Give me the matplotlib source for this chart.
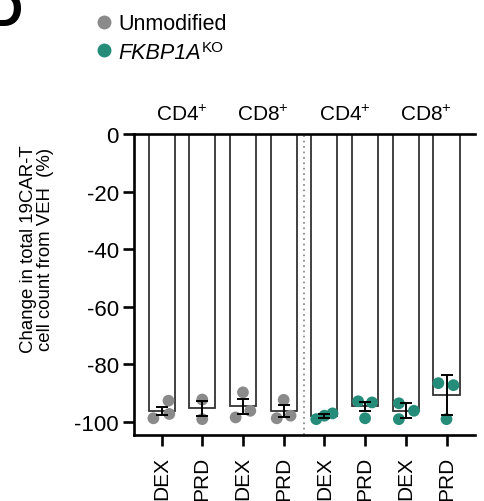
import matplotlib
matplotlib.use("Agg")
import matplotlib.pyplot as plt
from matplotlib.lines import Line2D
from matplotlib.transforms import blended_transform_factory

plt.rcParams['font.family'] = ['Liberation Sans', 'DejaVu Sans']
plt.rcParams['mathtext.fontset'] = 'custom'
plt.rcParams['mathtext.rm'] = 'Liberation Sans'
plt.rcParams['mathtext.it'] = 'Liberation Sans:italic'
plt.rcParams['axes.unicode_minus'] = False

# drug per bar, cell subset per pair of bars
drugs = ["DEX", "PRD", "DEX", "PRD", "DEX", "PRD", "DEX", "PRD"]
subsets = ["CD4$^{+}$", "CD8$^{+}$", "CD4$^{+}$", "CD8$^{+}$"]
is_ko = [False, False, False, False, True, True, True, True]

# % change from VEH: bar means, error bars and donor points
means = [-96.1, -95.3, -94.6, -96.1, -97.8, -94.6, -96.1, -90.6]
errs = [1.35, 2.6, 2.45, 2.0, 0.75, 1.55, 2.6, 7.0]
points = [
    [-98.7, -92.6, -97.2],
    [-92.2, -99.0],
    [-89.7, -96.1, -98.4],
    [-92.3, -97.8, -98.7],
    [-99.0, -97.8, -97.0],
    [-92.8, -93.2, -98.7],
    [-93.5, -96.1, -99.0],
    [-86.5, -87.2, -99.0],
]
# horizontal spread of the dots so they don't sit on top of each other
spread = [
    [-0.2, 0.17, 0.19],
    [0.0, 0.0],
    [0.0, 0.18, -0.18],
    [0.0, 0.17, -0.17],
    [-0.2, 0.0, 0.2],
    [-0.17, 0.17, 0.0],
    [-0.17, 0.2, -0.17],
    [-0.2, 0.17, 0.0],
]

GRAY = "#8a8a8a"
TEAL = "#268c7a"

fig = plt.figure(figsize=(4.84, 5.02), dpi=100)
ax = fig.add_axes([0.2769, 0.1315, 0.7045, 0.5996])

x = list(range(len(means)))
ax.bar(x, means, width=0.64, color="white", edgecolor="#333333", linewidth=1.3, zorder=2)

for i, (vals, offs) in enumerate(zip(points, spread)):
    c = TEAL if is_ko[i] else GRAY
    ax.scatter([i + o for o in offs], vals, s=72, color=c, edgecolor="none", zorder=3)

ax.errorbar(x, means, yerr=errs, fmt="none", ecolor="black", elinewidth=1.4,
            capsize=4.3, capthick=1.4, zorder=4)

# separator between unmodified and knockout
ax.axvline(3.5, color="#8f8f8f", linestyle=(0, (1, 2)), linewidth=1.3, zorder=1)

ax.set_xlim(-0.676, 7.70)
ax.set_ylim(-104.5, 0)
ax.set_yticks([0, -20, -40, -60, -80, -100])
ax.set_xticks(x)
ax.set_xticklabels(drugs, rotation=90, fontsize=15)
ax.tick_params(axis="y", labelsize=16, length=8, width=1.9, pad=3)
ax.tick_params(axis="x", length=8, width=1.9, pad=7)

for side in ["left", "bottom", "top"]:
    ax.spines[side].set_linewidth(1.9)
ax.spines["right"].set_visible(False)

ax.set_ylabel("Change in total 19CAR-T\ncell count from VEH  (%)", fontsize=13.4,
              linespacing=1.02)
ax.yaxis.set_label_coords(-0.235, 0.62)

trans = blended_transform_factory(ax.transData, ax.transAxes)
for k, lab in enumerate(subsets):
    ax.text(2 * k + 0.5, 1.048, lab, transform=trans, ha="center", va="baseline",
            fontsize=15)

handles = [
    Line2D([], [], marker="o", linestyle="none", color=GRAY, markersize=9),
    Line2D([], [], marker="o", linestyle="none", color=TEAL, markersize=9),
]
leg = fig.legend(handles, ["Unmodified", "FKBP1A"], loc="upper left",
                 bbox_to_anchor=(0.149, 1.01), frameon=False, fontsize=15.5,
                 handletextpad=0.05, labelspacing=0.35, handlelength=1.2)
# gene name in italics, knockout tag as an upright superscript
gene = leg.get_texts()[1]
gene.set_fontstyle("italic")
fig.canvas.draw()
fig.text(0, 0, "KO", fontsize=11).set_position(
    fig.transFigure.inverted().transform(
        (gene.get_window_extent().x1 + 1, gene.get_window_extent().y1 - 9)))

# panel letter
fig.text(0.048, 0.948, "D", fontsize=36, fontweight="bold", ha="right", va="baseline")

fig.savefig("out.png", dpi=100)
